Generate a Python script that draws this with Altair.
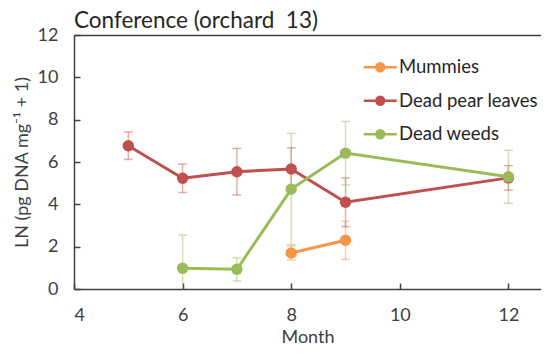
import altair as alt
import pandas as pd

# ---------------- data ----------------
series_names = ["Mummies", "Dead pear leaves", "Dead weeds"]
series_colors = ["#F79646", "#C0504D", "#9BBB59"]

mummies_month = [8, 9]
mummies_value = [1.7, 2.3]
mummies_err = [0.33, 0.9]

pear_month = [5, 6, 7, 8, 9, 12]
pear_value = [6.77, 5.23, 5.54, 5.67, 4.1, 5.25]
pear_err = [0.65, 0.67, 1.1, 1.0, 1.15, 0.58]

weeds_month = [6, 7, 8, 9, 12]
weeds_value = [0.98, 0.93, 4.72, 6.42, 5.3]
weeds_err = [1.57, 0.55, 2.63, 1.5, 1.25]

x_ticks = [4, 6, 8, 10, 12]
y_ticks = [0, 2, 4, 6, 8, 10, 12]

title_text = "Conference (orchard\u00a0\u00a013)"
x_title = "Month"
y_title = "LN (pg DNA mg\u207b\u00b9 + 1)"

# ---------------- table ----------------
rows = []
for name, months, values, errs in [
    (series_names[0], mummies_month, mummies_value, mummies_err),
    (series_names[1], pear_month, pear_value, pear_err),
    (series_names[2], weeds_month, weeds_value, weeds_err),
]:
    for m, v, e in zip(months, values, errs):
        rows.append({"series": name, "month": m, "value": v, "err": e,
                     "lo": max(0.0, v - e), "hi": v + e})
df = pd.DataFrame(rows)

# ---------------- layout / style ----------------
W, H = 467, 254
FONT = "Lato"
AX = "#404040"
TXT = "#262626"

x_scale = alt.Scale(domain=[4, 12.6], nice=False, zero=False)
y_scale = alt.Scale(domain=[0, 12], nice=False, zero=False)
color_scale = alt.Scale(domain=series_names, range=series_colors)

legend_path = ("M-3.3,0L3.3,0"
               "M0.78,0A0.78,0.78,0,1,1,-0.78,0A0.78,0.78,0,1,1,0.78,0"
               "M0.36,0A0.36,0.36,0,1,1,-0.36,0A0.36,0.36,0,1,1,0.36,0"
               "M0.08,0A0.08,0.08,0,1,1,-0.08,0A0.08,0.08,0,1,1,0.08,0")

x_axis = alt.Axis(values=x_ticks, format="d", title=x_title, ticks=False,
                  grid=False, domainColor=AX, domainWidth=1.5,
                  labelFontSize=18, labelColor=AX, labelFont=FONT,
                  labelPadding=17, titleFontSize=18, titleColor=AX,
                  titleFont=FONT, titleFontWeight="normal", titlePadding=4)
y_axis = alt.Axis(values=y_ticks, format="d", title=y_title, ticks=False,
                  grid=False, domainColor=AX, domainWidth=1.5,
                  labelFontSize=18, labelColor=AX, labelFont=FONT,
                  labelPadding=16, titleFontSize=18, titleColor=AX,
                  titleFont=FONT, titleFontWeight="normal", titlePadding=6)

x_main = alt.X("month:Q", scale=x_scale, axis=x_axis)

legend_def = alt.Legend(title=None, orient="none", legendX=297, legendY=23,
                        symbolType=legend_path, symbolSize=100,
                        symbolStrokeWidth=2.5, symbolOpacity=1,
                        labelFontSize=18.5, labelFont=FONT, labelColor=TXT,
                        labelOffset=9.5, rowPadding=14.5)
color_enc = alt.Color("series:N", scale=color_scale, legend=legend_def)

base = alt.Chart(df)

line = base.mark_line(strokeWidth=3).encode(
    x=x_main, y=alt.Y("value:Q", scale=y_scale, axis=y_axis),
    color=color_enc, order="month:Q")
err = base.mark_rule(strokeWidth=1.5, opacity=0.45).encode(
    x=x_main, y=alt.Y("lo:Q", scale=y_scale, axis=y_axis), y2="hi:Q",
    color=color_enc)
cap_hi = base.mark_tick(orient="horizontal", size=9, thickness=1.5, opacity=0.45).encode(
    x=x_main, y=alt.Y("hi:Q", scale=y_scale, axis=y_axis), color=color_enc)
cap_lo = base.transform_filter("datum.value - datum.err > 0").mark_tick(
    orient="horizontal", size=9, thickness=1.5, opacity=0.45).encode(
    x=x_main, y=alt.Y("lo:Q", scale=y_scale, axis=y_axis), color=color_enc)
pts = base.mark_circle(size=130, opacity=1).encode(
    x=x_main, y=alt.Y("value:Q", scale=y_scale, axis=y_axis), color=color_enc)

inner = alt.layer(line, err, cap_hi, cap_lo, pts)

# inward tick marks and top frame line via extra axes
ytick_layer = base.mark_point(opacity=0).encode(
    x=alt.X("month:Q", scale=x_scale, axis=None),
    y=alt.Y("value:Q", scale=y_scale,
            axis=alt.Axis(orient="right", offset=-W, values=y_ticks, tickSize=6,
                          tickColor=AX, tickWidth=1.5, labels=False, domain=False,
                          grid=False, title=None)))
xtick_layer = base.mark_point(opacity=0).encode(
    x=alt.X("month:Q", scale=x_scale,
            axis=alt.Axis(orient="top", offset=-H, values=x_ticks, tickSize=6,
                          tickColor=AX, tickWidth=1.5, labels=False, domain=False,
                          grid=False, title=None)),
    y=alt.Y("value:Q", scale=y_scale, axis=None))
top_layer = base.mark_point(opacity=0).encode(
    x=alt.X("month:Q", scale=x_scale,
            axis=alt.Axis(orient="top", ticks=False, labels=False, domain=True,
                          domainColor=AX, domainWidth=1.5, grid=False, title=None)),
    y=alt.Y("value:Q", scale=y_scale, axis=None))

chart = alt.layer(inner, ytick_layer, xtick_layer, top_layer).resolve_scale(
    x="independent", y="independent"
).properties(
    width=W, height=H,
    title=alt.TitleParams(text=title_text, anchor="start", frame="group",
                          fontSize=22.5, font=FONT, fontWeight="normal", color=TXT,
                          offset=8, dy=14),
    autosize=alt.AutoSizeParams(type="none"),
    padding={"left": 66, "top": 27, "right": 0, "bottom": 57},
).configure_view(stroke=None).configure(background="white")

chart.save("out.html", embed_options={"renderer": "svg", "actions": False})
